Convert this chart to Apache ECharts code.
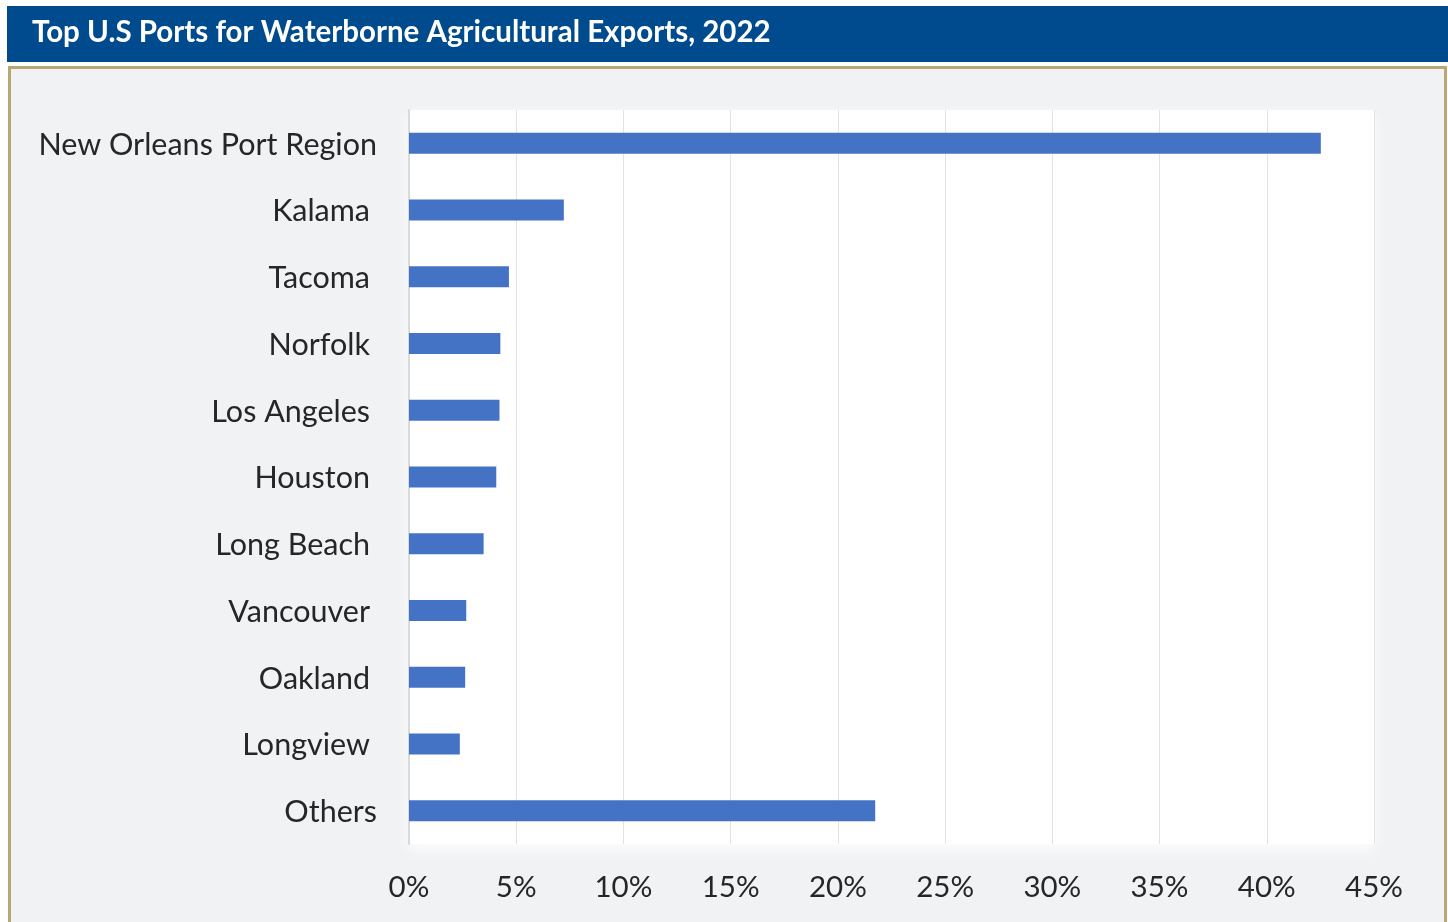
<!DOCTYPE html>
<html>
<head>
<meta charset="utf-8">
<script src="https://cdn.jsdelivr.net/npm/echarts@6/dist/echarts.min.js"></script>
<style>
html,body{margin:0;padding:0;background:#ffffff;}
#chart{width:1448px;height:922px;}
</style>
</head>
<body>
<div id="chart"></div>
<script>
const titleText = 'Top U.S Ports for Waterborne Agricultural Exports, 2022';
const categories = ['New Orleans Port Region','Kalama','Tacoma','Norfolk','Los Angeles','Houston','Long Beach','Vancouver','Oakland','Longview','Others'];
const shares = [42.52, 7.22, 4.66, 4.26, 4.22, 4.07, 3.48, 2.67, 2.62, 2.37, 21.74];
const xTicks = [0,5,10,15,20,25,30,35,40,45];

const FONT = 'Lato';
const LBL = 30.5;
const chart = echarts.init(document.getElementById('chart'), null, {renderer:'canvas'});
chart.setOption({
  backgroundColor: '#ffffff',
  animation: false,
  graphic: [
    {type:'rect', shape:{x:7,y:6,width:1441,height:56}, style:{fill:'#004b8d'}, z:-10},
    {type:'text', left:32, top:17, style:{text:titleText, fill:'#ffffff', font:'bold 29.5px ' + FONT}, z:-9},
    {type:'rect', shape:{x:9.5,y:67.5,width:1436,height:860}, style:{fill:'#f0f2f4', stroke:'#b9a675', lineWidth:3}, z:-10}
  ],
  grid: {
    left: 409, right: 74, top: 110, bottom: 78,
    show: true, backgroundColor: '#ffffff', borderWidth: 0,
    shadowColor: 'rgba(255,255,255,0.9)', shadowBlur: 14, shadowOffsetY: 6
  },
  xAxis: {
    type: 'value', min: xTicks[0], max: xTicks[xTicks.length-1], interval: xTicks[1]-xTicks[0],
    axisLine: {show:false}, axisTick: {show:false},
    splitLine: {show:true, lineStyle:{color:'#e3e3e3', width:1}},
    axisLabel: {formatter: v => v + '%', color:'#262626', fontFamily: FONT, fontSize: 29.5, margin: 28}
  },
  yAxis: {
    type: 'category', data: categories, inverse: true,
    axisLine: {show:true, lineStyle:{color:'#dadada', width:2}},
    axisTick: {show:false},
    axisLabel: {
      color:'#262626', fontFamily: FONT, fontSize: LBL, margin: 32,
      formatter: v => (v === 'Others' || v === 'New Orleans Port Region') ? '{b|' + v + '}' : '{a|' + v + '}',
      rich: {
        a: {color:'#262626', fontFamily: FONT, fontSize: LBL, padding:[3,7,0,0]},
        b: {color:'#262626', fontFamily: FONT, fontSize: LBL, padding:[3,0,0,0]}
      }
    }
  },
  series: [{
    type: 'bar', data: shares, barWidth: 21,
    itemStyle: {color:'#4472c4'}
  }]
});
</script>
</body>
</html>
